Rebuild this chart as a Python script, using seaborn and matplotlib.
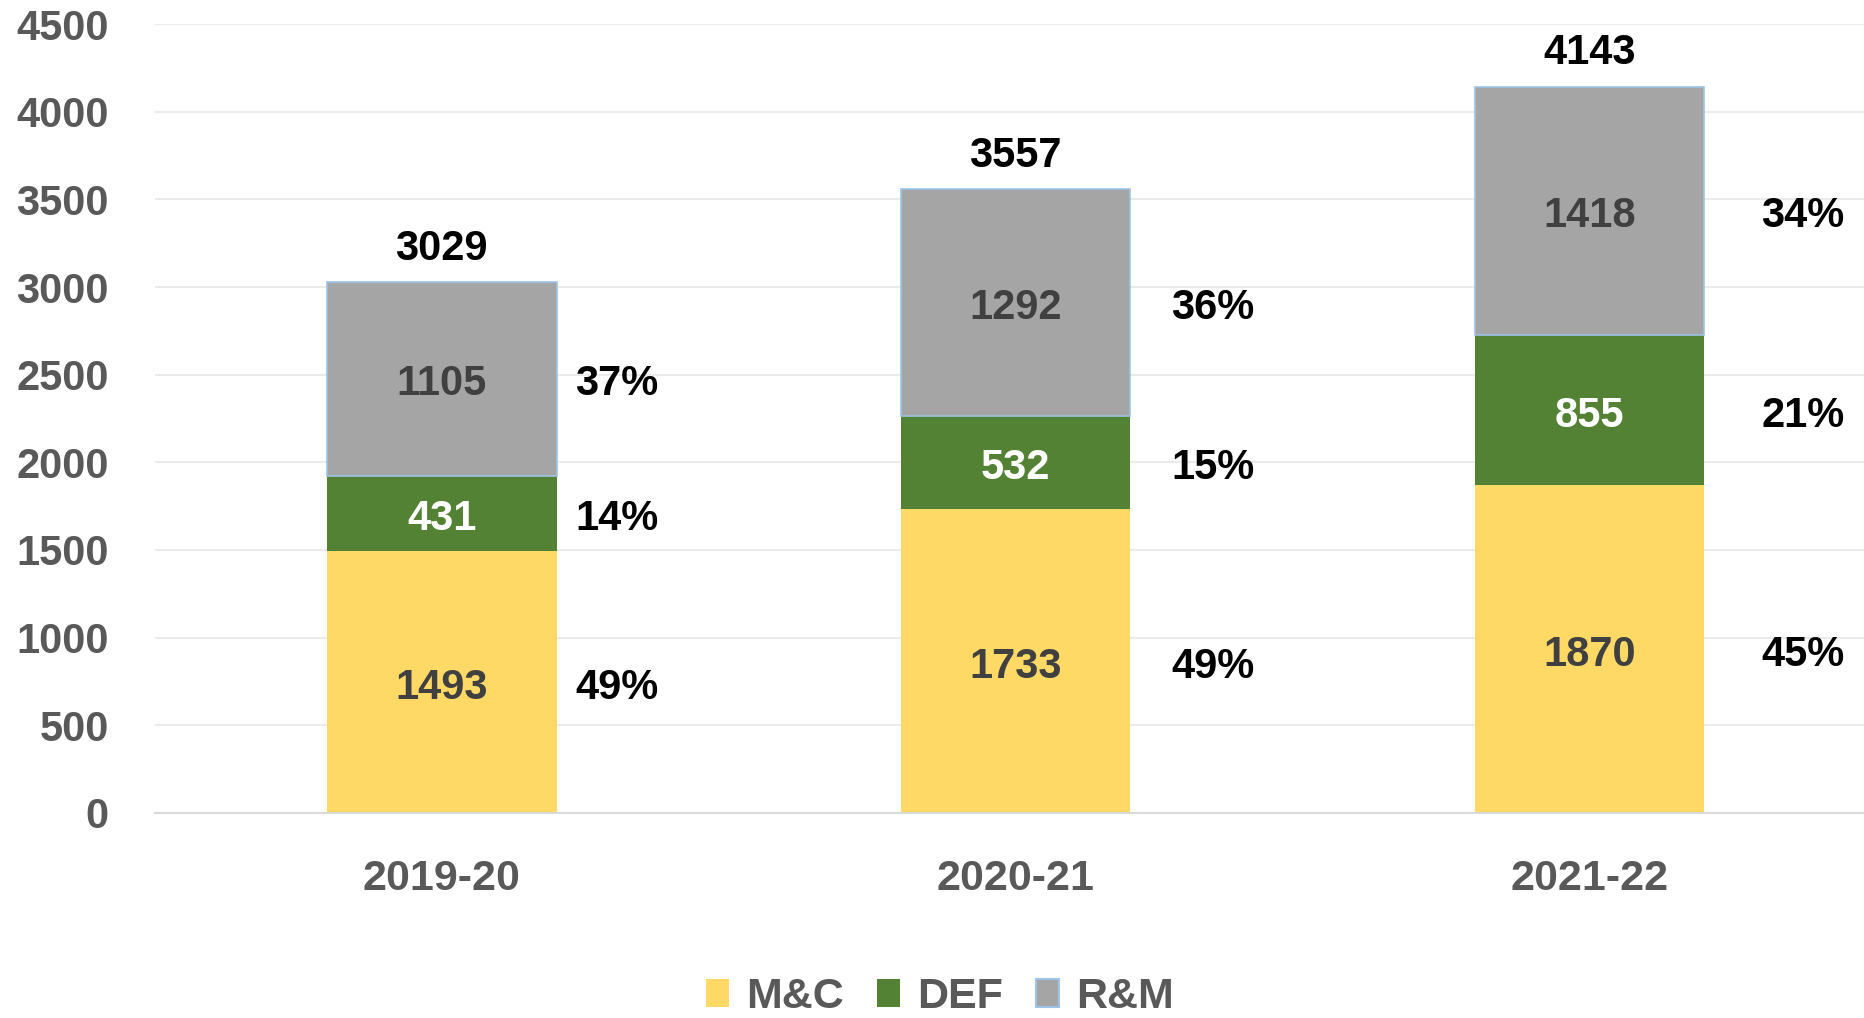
import matplotlib.pyplot as plt
import seaborn as sns
import numpy as np
import pandas as pd
from matplotlib.patches import Patch

years = ['2019-20', '2020-21', '2021-22']
mc = [1493, 1733, 1870]
defv = [431, 532, 855]
rm = [1105, 1292, 1418]
totals = [3029, 3557, 4143]
pct_mc = ['49%', '49%', '45%']
pct_def = ['14%', '15%', '21%']
pct_rm = ['37%', '36%', '34%']
series_names = ['M&C', 'DEF', 'R&M']

sns.set_style("white")
plt.rcParams['font.family'] = ['Liberation Sans Narrow', 'Liberation Sans', 'DejaVu Sans']
plt.rcParams['font.weight'] = 'bold'

df = pd.DataFrame({'year': years, 'mc': mc, 'def': defv, 'rm': rm})
df['bottom_def'] = df['mc']
df['bottom_rm'] = df['mc'] + df['def']

colors = {'M&C': '#FFD966', 'DEF': '#548235', 'R&M': '#A5A5A5'}
edge_rm = '#9DC3E6'

fig = plt.figure(figsize=(18.65, 10.18), dpi=100)
ax = fig.add_axes([0.083, 0.2014, 0.917, 0.7750])

sns.barplot(data=df, x='year', y='mc', color=colors['M&C'], saturation=1,
            width=0.4, linewidth=0, ax=ax)
sns.barplot(data=df, x='year', y='def', bottom=df['bottom_def'], color=colors['DEF'],
            saturation=1, width=0.4, linewidth=0, ax=ax)
sns.barplot(data=df, x='year', y='rm', bottom=df['bottom_rm'], color=colors['R&M'],
            saturation=1, width=0.4, edgecolor=edge_rm, linewidth=1.2, ax=ax)

ax.set_ylim(0, 4500)
ax.set_xlim(-0.5, 2.48)
ax.set_yticks(np.arange(0, 4501, 500))
ax.yaxis.grid(True, color='#EBEBEB', linewidth=1.5)
ax.set_axisbelow(True)
for s in ['top', 'right', 'left']:
    ax.spines[s].set_visible(False)
ax.spines['bottom'].set_color('#D9D9D9')
ax.spines['bottom'].set_linewidth(1.5)
ax.tick_params(axis='y', length=0, pad=33, labelsize=30, labelcolor='#595959')
ax.tick_params(axis='x', length=0, pad=33, labelsize=31, labelcolor='#595959')
for lab in ax.get_xticklabels() + ax.get_yticklabels():
    lab.set_fontweight('bold')
ax.set_xlabel('')
ax.set_ylabel('')

# segment value labels
pct_offset = [0.305, 0.344, 0.372]
for i in range(len(years)):
    mids = [mc[i] / 2, mc[i] + defv[i] / 2, mc[i] + defv[i] + rm[i] / 2]
    vals = [mc[i], defv[i], rm[i]]
    tcol = ['#404040', 'white', '#404040']
    pcts = [pct_mc[i], pct_def[i], pct_rm[i]]
    for m, v, c, p in zip(mids, vals, tcol, pcts):
        ax.annotate(str(v), (i, m), xytext=(0, -4), textcoords='offset points',
                    ha='center', va='center', fontsize=30, fontweight='bold', color=c)
        ax.annotate(p, (i + pct_offset[i], m), xytext=(0, -4), textcoords='offset points',
                    ha='center', va='center', fontsize=30, fontweight='bold', color='black')
    ax.annotate(str(totals[i]), (i, totals[i]), xytext=(0, 16), textcoords='offset points',
                ha='center', va='baseline', fontsize=30, fontweight='bold', color='black')

handles = [Patch(facecolor=colors['M&C'], edgecolor='none'),
           Patch(facecolor=colors['DEF'], edgecolor='none'),
           Patch(facecolor=colors['R&M'], edgecolor=edge_rm, linewidth=1.5)]
leg = fig.legend(handles, series_names, loc='center', bbox_to_anchor=(940 / 1865, 1 - 997 / 1018),
                 ncol=3, frameon=False, fontsize=31, handlelength=0.55, handleheight=0.65,
                 handletextpad=0.4, columnspacing=0.75)
for t in leg.get_texts():
    t.set_color('#595959')
    t.set_fontweight('bold')

plt.savefig('out.png', dpi=100)
plt.close()
